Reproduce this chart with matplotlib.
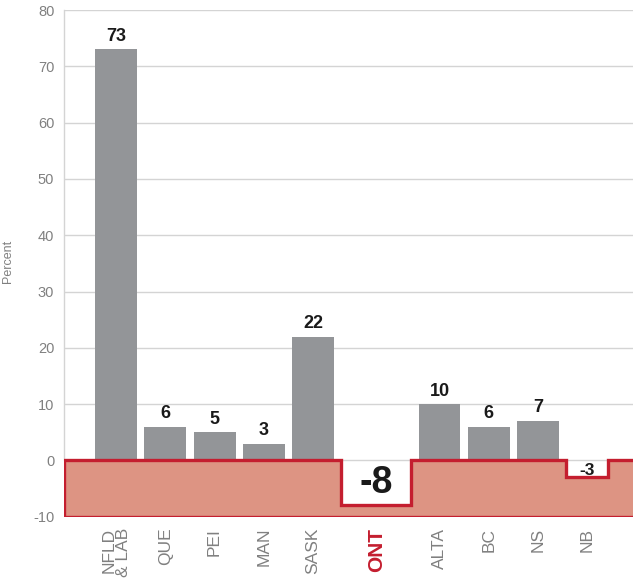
import matplotlib
matplotlib.use("Agg")
import matplotlib.pyplot as plt
from matplotlib.patches import Polygon
import numpy as np

plt.rcParams['font.family'] = ['Liberation Sans', 'DejaVu Sans']

# Provincial change, percent
provinces = ["NFLD\n& LAB", "QUE", "PEI", "MAN", "SASK", "ONT", "ALTA", "BC", "NS", "NB"]
values = [73, 6, 5, 3, 22, -8, 10, 6, 7, -3]
highlight = "ONT"
y_ticks = [-10, 0, 10, 20, 30, 40, 50, 60, 70, 80]

BAR_GRAY = "#939598"
SALMON = "#DD9483"
RED = "#C41E2F"
GRID = "#D4D4D4"
TICK_GRAY = "#808080"

# slot layout: the highlighted province gets a wider slot
slot = [1.57 if p == highlight else 1.0 for p in provinces]
centers = []
pos = 0.0
for i, w in enumerate(slot):
    if i > 0:
        pos += (slot[i - 1] + w) / 2
    centers.append(pos)
centers = np.array(centers)
widths = np.array(slot) - 0.15

fig = plt.figure(figsize=(6.33, 5.78), dpi=100)
ax = fig.add_axes([64 / 633, 1 - 516.7 / 578, 1 - 64 / 633, (516.7 - 10) / 578])

xmin, xmax = -1.06, 10.5
ymin, ymax = -10, 80
ax.set_xlim(xmin, xmax)
ax.set_ylim(ymin, ymax)

# gridlines
for t in y_ticks[1:]:
    ax.axhline(t, color=GRID, lw=1.0, zorder=0)

# positive bars
vals = np.array(values)
pos_mask = vals > 0
ax.bar(centers[pos_mask], vals[pos_mask], width=widths[pos_mask],
       color=BAR_GRAY, zorder=2)

for c, v in zip(centers[pos_mask], vals[pos_mask]):
    ax.text(c, v + 0.8, f"{v}", ha="center", va="bottom",
            fontsize=13, fontweight="bold", color="#1a1a1a", zorder=4)

# negative band with notches cut out for declining provinces
verts = [(xmin, ymin), (xmin, 0)]
for c, w, v in zip(centers, widths, vals):
    if v < 0:
        verts += [(c - w / 2, 0), (c - w / 2, v), (c + w / 2, v), (c + w / 2, 0)]
verts += [(xmax + 1, 0), (xmax + 1, ymin)]
band = Polygon(verts, closed=True, facecolor=SALMON, edgecolor=RED,
               lw=2.4, joinstyle="miter", zorder=3, clip_on=True)
ax.add_patch(band)

for p, c, v in zip(provinces, centers, vals):
    if v < 0:
        big = p == highlight
        ax.text(c, v / 2 if big else -0.4, f"{v}", ha="center",
                va="center" if big else "top",
                fontsize=27 if big else 12.5, fontweight="bold",
                color="#1a1a1a", zorder=4)

# axes styling
for s in ["top", "right", "bottom"]:
    ax.spines[s].set_visible(False)
ax.spines["left"].set_color(GRID)
ax.spines["left"].set_linewidth(1.0)
ax.spines["left"].set_bounds(0, ymax)

ax.set_yticks(y_ticks)
ax.set_yticklabels([str(t) for t in y_ticks])
ax.tick_params(axis="y", length=0, pad=7, labelsize=10.5, labelcolor=TICK_GRAY)

ax.set_xticks(centers)
ax.set_xticklabels(provinces, rotation=90, va="top", ha="center",
                   multialignment="right", linespacing=0.95)
ax.tick_params(axis="x", length=0, pad=8, labelsize=12.5, labelcolor=TICK_GRAY)
for lbl in ax.get_xticklabels():
    if lbl.get_text() == highlight:
        lbl.set_color(RED)
        lbl.set_fontweight("bold")
        lbl.set_fontsize(15)

ax.set_ylabel("Percent", fontsize=9, color=TICK_GRAY)
ax.yaxis.set_label_coords(-0.088, 0.503)

fig.savefig("out.png", dpi=100)
